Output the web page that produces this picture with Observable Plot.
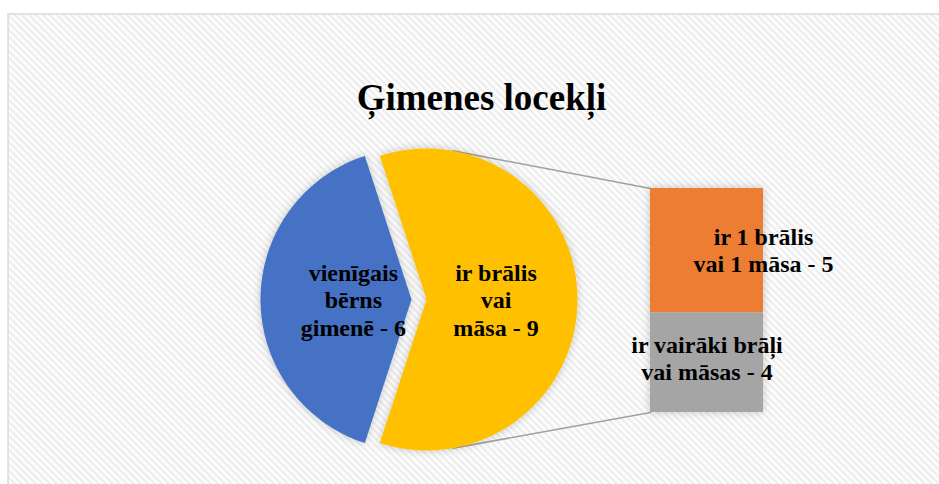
<!DOCTYPE html>
<html>
<head>
<meta charset="utf-8">
<script src="https://cdn.jsdelivr.net/npm/d3@7"></script>
<script src="https://cdn.jsdelivr.net/npm/@observablehq/plot@0.6"></script>
<style>
  html, body { margin: 0; padding: 0; background: #fff; }
  #chart svg { display: block; }
</style>
</head>
<body>
<div id="chart"></div>
<script>
// ---- data ----
const title = "Ģimenes locekļi";
const pieCategories = ["vienīgais bērns gimenē", "ir brālis vai māsa"];
const pieLabels = ["vienīgais\nbērns\ngimenē - 6", "ir brālis\nvai\nmāsa - 9"];
const pieValues = [6, 9];
const pieColors = ["#4472C4", "#FFC000"];

const barCategories = ["ir 1 brālis vai 1 māsa", "ir vairāki brāļi vai māsas"];
const barLabels = ["ir 1 brālis\nvai 1 māsa - 5", "ir vairāki brāļi\nvai māsas - 4"];
const barValues = [5, 4];
const barColors = ["#ED7D31", "#A5A5A5"];

// ---- layout ----
const W = 939, H = 484;
const pie = {cx: 411, cy: 299, r: 151, explode: 15, labelFrac: [0.385, 0.46]};
const bar = {x0: 650, x1: 763, top: 188, height: 224};
const barLabelAnchor = [{fx: 1, dy: -1}, {fx: 0.5, dy: -5}];
const connectorAngle = 10 * Math.PI / 180;

// pie geometry (d3 angles: 0 at 12 o'clock, clockwise)
const start = 198 * Math.PI / 180;
const arcs = d3.pie().sort(null).startAngle(start).endAngle(start + 2 * Math.PI)(pieValues);
const pt = (c, a, r) => ({x: c.x + r * Math.sin(a), y: c.y - r * Math.cos(a)});

const slicePolys = arcs.map((a, i) => {
  const mid = (a.startAngle + a.endAngle) / 2;
  const off = i === 1 ? pie.explode : 0;
  const c = {x: pie.cx + off * Math.sin(mid), y: pie.cy - off * Math.cos(mid)};
  const pts = [{...c, k: i}];
  const n = 120;
  for (let j = 0; j <= n; j++) {
    const t = a.startAngle + (a.endAngle - a.startAngle) * j / n;
    pts.push({...pt(c, t, pie.r), k: i});
  }
  pts.push({...c, k: i});
  return {c, mid, pts};
});

const pieText = slicePolys.map((s, i) => ({
  ...pt(s.c, s.mid, pie.r * pie.labelFrac[i]), label: pieLabels[i]
}));

// bar geometry
const total = d3.sum(barValues);
let acc = 0;
const barRects = barValues.map((v, i) => {
  const y1 = bar.top + bar.height * acc / total;
  acc += v;
  const y2 = bar.top + bar.height * acc / total;
  return {y1, y2, color: barColors[i], label: barLabels[i],
    lx: bar.x0 + (bar.x1 - bar.x0) * barLabelAnchor[i].fx, ly: (y1 + y2) / 2 + barLabelAnchor[i].dy};
});

// connectors from exploded slice to bar
const yc = slicePolys[1].c;
const connectors = [
  [pt(yc, connectorAngle, pie.r), {x: bar.x0, y: bar.top}],
  [pt(yc, Math.PI - connectorAngle, pie.r), {x: bar.x0, y: bar.top + bar.height}]
].flatMap((seg, k) => seg.map(p => ({...p, k})));

const font = "'Liberation Serif', 'Times New Roman', serif";

const chart = Plot.plot({
  width: W, height: H, margin: 0,
  x: {domain: [0, W], range: [0, W], axis: null},
  y: {domain: [0, H], range: [0, H], axis: null},
  style: {background: "#fff", fontFamily: font},
  marks: [
    Plot.frame({fill: "url(#bgstripes)", stroke: "#d9d9d9", strokeWidth: 1.5, insetLeft: 7.5, insetTop: 13.5, insetRight: -5, insetBottom: -5}),
    Plot.line(connectors, {x: "x", y: "y", z: "k", stroke: "#a0a0a0", strokeWidth: 1.5}),
    ...slicePolys.map((s, i) => Plot.line(s.pts, {x: "x", y: "y", fill: pieColors[i], stroke: "none", className: "shadowed"})),
    Plot.rect(barRects, {x1: () => bar.x0, x2: () => bar.x1, y1: "y1", y2: "y2", fill: "color", className: "shadowed"}),
    Plot.text(pieText, {x: "x", y: "y", text: "label", fontSize: 24, fontWeight: "bold", fill: "#000", lineHeight: 1.15, textAnchor: "middle"}),
    Plot.text(barRects, {x: "lx", y: "ly", text: "label", fontSize: 24, fontWeight: "bold", fill: "#000", lineHeight: 1.12, textAnchor: "middle"}),
    Plot.text([title], {x: () => 481, y: () => 98, text: d => d, fontSize: 37, fontWeight: "bold", fill: "#000", textAnchor: "middle"})
  ],
  color: {type: "identity"}
});

const svg = d3.select(chart);
const defs = svg.insert("defs", ":first-child");
const pat = defs.append("pattern").attr("id", "bgstripes").attr("patternUnits", "userSpaceOnUse")
  .attr("width", 7).attr("height", 7);
pat.append("rect").attr("width", 7).attr("height", 7).attr("fill", "#ffffff");
pat.append("path").attr("d", "M-1,-1 L8,8 M-4.5,2.5 L1,8 M2.5,-4.5 L8,1")
  .attr("stroke", "#ededed").attr("stroke-width", 2.4);
const f = defs.append("filter").attr("id", "sh").attr("x", "-20%").attr("y", "-20%").attr("width", "140%").attr("height", "140%");
f.append("feDropShadow").attr("dx", 0).attr("dy", 0).attr("stdDeviation", 4)
  .attr("flood-color", "#000").attr("flood-opacity", 0.22);
svg.selectAll("g.shadowed").attr("filter", "url(#sh)");

document.getElementById("chart").appendChild(chart);
</script>
</body>
</html>
